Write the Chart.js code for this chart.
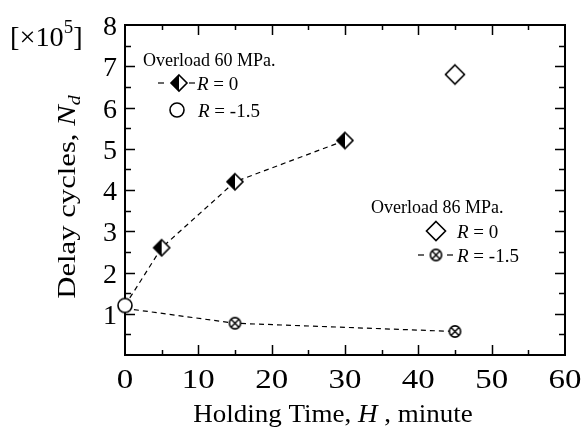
<!DOCTYPE html>
<html>
<head>
<meta charset="utf-8">
<script src="https://cdn.jsdelivr.net/npm/chart.js@4"></script>
<style>body{margin:0;background:#fff}</style>
</head>
<body>
<canvas id="chart" width="582" height="434"></canvas>
<script>
const serif = '"Liberation Serif", "Times New Roman", serif';

// holding time (minute) / delay cycles (x10^5)
const hold60R0 = [0, 5, 15, 30];
const delay60R0 = [1.2, 2.6, 4.2, 5.2];
const hold60Rm = [0];
const delay60Rm = [1.2];
const hold86R0 = [45];
const delay86R0 = [6.8];
const hold86Rm = [0, 15, 45];
const delay86Rm = [1.13, 0.77, 0.57];

function pts(xs, ys) {
    return xs.map((x, i) => ({ x: x, y: ys[i] }));
}

// marker images
function makeMarker(size, draw) {
    const c = document.createElement('canvas');
    c.width = size; c.height = size;
    const g = c.getContext('2d');
    draw(g, size / 2);
    return c;
}
function diamondPath(g, m, r) {
    g.beginPath();
    g.moveTo(m, m - r); g.lineTo(m + r, m); g.lineTo(m, m + r); g.lineTo(m - r, m);
    g.closePath();
}
const halfDiamond = makeMarker(20, (g, m) => {
    diamondPath(g, m, 8);
    g.fillStyle = '#fff'; g.fill();
    g.save(); g.clip();
    g.fillStyle = '#000'; g.fillRect(0, 0, m, 20);
    g.restore();
    diamondPath(g, m, 8);
    g.lineWidth = 1.6; g.strokeStyle = '#000'; g.stroke();
});
const openDiamond = makeMarker(24, (g, m) => {
    diamondPath(g, m, 9.5);
    g.fillStyle = '#fff'; g.fill();
    g.lineWidth = 1.6; g.strokeStyle = '#000'; g.stroke();
});
const openCircle = makeMarker(18, (g, m) => {
    g.beginPath(); g.arc(m, m, 7, 0, Math.PI * 2);
    g.fillStyle = '#fff'; g.fill();
    g.lineWidth = 1.6; g.strokeStyle = '#000'; g.stroke();
});
const crossCircle = makeMarker(15, (g, m) => {
    const r = 5.6;
    g.beginPath(); g.arc(m, m, r, 0, Math.PI * 2);
    g.fillStyle = '#fff'; g.fill();
    g.lineWidth = 1.6; g.strokeStyle = '#000'; g.stroke();
    const d = r * 0.707;
    g.lineWidth = 1.4;
    g.beginPath();
    g.moveTo(m - d, m - d); g.lineTo(m + d, m + d);
    g.moveTo(m + d, m - d); g.lineTo(m - d, m + d);
    g.stroke();
});

// text with mixed italic / sub / sup pieces, sx stretches along the text
function drawParts(ctx, parts, x, y, align, sx) {
    sx = sx || 1;
    let w = 0;
    parts.forEach(p => {
        ctx.font = (p.italic ? 'italic ' : '') + p.size + 'px ' + serif;
        p.w = ctx.measureText(p.t).width;
        w += p.w;
    });
    let start = align === 'center' ? -w / 2 : (align === 'right' ? -w : 0);
    ctx.save();
    ctx.translate(x, y);
    ctx.scale(sx, 1);
    ctx.textAlign = 'left';
    ctx.textBaseline = 'alphabetic';
    let cx = start;
    parts.forEach(p => {
        ctx.font = (p.italic ? 'italic ' : '') + p.size + 'px ' + serif;
        ctx.fillText(p.t, cx, p.dy || 0);
        cx += p.w;
    });
    ctx.restore();
}

const framePlugin = {
    id: 'frame',
    beforeDatasetsDraw(chart) {
        const ctx = chart.ctx;
        const a = chart.chartArea;
        const xs = chart.scales.x, ys = chart.scales.y;
        ctx.save();
        ctx.strokeStyle = '#000';
        ctx.lineWidth = 1.5;
        for (let v = 5; v < 60; v += 5) {
            const px = Math.round(xs.getPixelForValue(v)) + 0.5;
            const len = v % 10 === 0 ? 10 : 5;
            ctx.beginPath();
            ctx.moveTo(px, a.bottom); ctx.lineTo(px, a.bottom - len);
            ctx.moveTo(px, a.top); ctx.lineTo(px, a.top + len);
            ctx.stroke();
        }
        for (let v = 0.5; v < 8; v += 0.5) {
            const py = Math.round(ys.getPixelForValue(v)) + 0.5;
            const len = v % 1 === 0 ? 10 : 6;
            ctx.beginPath();
            ctx.moveTo(a.left, py); ctx.lineTo(a.left + len, py);
            ctx.moveTo(a.right, py); ctx.lineTo(a.right - len, py);
            ctx.stroke();
        }
        ctx.lineWidth = 2;
        ctx.strokeRect(a.left, a.top, a.right - a.left, a.bottom - a.top);

        // tick labels from the scales' own ticks
        ctx.fillStyle = '#000';
        xs.ticks.forEach(t => {
            drawParts(ctx, [{ t: String(t.value), size: 27 }],
                xs.getPixelForValue(t.value), a.bottom + 33, 'center', 1.22);
        });
        ys.ticks.forEach(t => {
            if (t.value === 0) return;
            drawParts(ctx, [{ t: String(t.value), size: 28 }],
                a.left - 8, ys.getPixelForValue(t.value) + 10, 'right', 1);
        });
        ctx.restore();
    }
};

const textPlugin = {
    id: 'texts',
    afterDraw(chart) {
        const ctx = chart.ctx;
        ctx.save();
        ctx.fillStyle = '#000';
        // axis titles
        drawParts(ctx, [
            { t: 'Holding Time, ', size: 25 },
            { t: 'H', size: 25, italic: true },
            { t: ' , minute', size: 25 }
        ], 333, 422, 'center', 1.08);
        ctx.save();
        ctx.translate(75, 197);
        ctx.rotate(-Math.PI / 2);
        drawParts(ctx, [
            { t: 'Delay cycles, ', size: 26 },
            { t: 'N', size: 26, italic: true },
            { t: 'd', size: 17, italic: true, dy: 5 }
        ], 0, 0, 'center', 1.18);
        ctx.restore();
        drawParts(ctx, [
            { t: '[\u00d710', size: 27 },
            { t: '5', size: 18, dy: -13 },
            { t: ']', size: 27 }
        ], 10, 46, 'left', 1.05);

        // legend: overload 60 MPa
        const dash = (x1, x2, y) => {
            ctx.beginPath(); ctx.moveTo(x1, y); ctx.lineTo(x2, y); ctx.stroke();
        };
        ctx.strokeStyle = '#000';
        ctx.lineWidth = 1.2;
        drawParts(ctx, [{ t: 'Overload 60 MPa.', size: 18 }], 143, 66, 'left');
        dash(158, 164, 83); dash(189, 195, 83);
        ctx.drawImage(halfDiamond, 179 - 10, 83 - 10);
        drawParts(ctx, [{ t: 'R', size: 19, italic: true }, { t: ' = 0', size: 19 }], 197, 90, 'left');
        ctx.drawImage(openCircle, 177 - 9, 110 - 9);
        drawParts(ctx, [{ t: 'R', size: 19, italic: true }, { t: ' = -1.5', size: 19 }], 198, 117, 'left');

        // legend: overload 86 MPa
        drawParts(ctx, [{ t: 'Overload 86 MPa.', size: 18 }], 371, 213, 'left');
        ctx.drawImage(openDiamond, 436 - 12, 231 - 12);
        drawParts(ctx, [{ t: 'R', size: 19, italic: true }, { t: ' = 0', size: 19 }], 457, 238, 'left');
        dash(418, 424, 255); dash(447, 453, 255);
        ctx.drawImage(crossCircle, 436 - 7.5, 255 - 7.5);
        drawParts(ctx, [{ t: 'R', size: 19, italic: true }, { t: ' = -1.5', size: 19 }], 457, 262, 'left');
        ctx.restore();
    }
};

const lineStyle = {
    showLine: true,
    borderColor: '#000',
    borderWidth: 1.2,
    borderDash: [5, 4],
    clip: false
};

new Chart(document.getElementById('chart'), {
    type: 'scatter',
    data: {
        datasets: [
            Object.assign({
                label: 'Overload 60 MPa, R = 0',
                data: pts(hold60R0, delay60R0),
                pointStyle: halfDiamond,
                pointRadius: [0, 8, 8, 8],
                order: 3
            }, lineStyle),
            Object.assign({
                label: 'Overload 86 MPa, R = -1.5',
                data: pts(hold86Rm, delay86Rm),
                pointStyle: crossCircle,
                pointRadius: [0, 6, 6],
                order: 2
            }, lineStyle),
            {
                label: 'Overload 86 MPa, R = 0',
                data: pts(hold86R0, delay86R0),
                pointStyle: openDiamond,
                pointRadius: 9,
                clip: false,
                order: 1
            },
            {
                label: 'Overload 60 MPa, R = -1.5',
                data: pts(hold60Rm, delay60Rm),
                pointStyle: openCircle,
                pointRadius: 7,
                clip: false,
                order: 0
            }
        ]
    },
    options: {
        responsive: false,
        animation: false,
        events: [],
        layout: { padding: { top: 25, right: 17, left: 0, bottom: 0 } },
        plugins: {
            legend: { display: false },
            tooltip: { enabled: false }
        },
        scales: {
            x: {
                type: 'linear',
                min: 0, max: 60,
                grid: { display: false, drawTicks: false },
                border: { display: false },
                ticks: { display: false, stepSize: 10 },
                afterFit(scale) { scale.height = 79; }
            },
            y: {
                type: 'linear',
                min: 0, max: 8,
                grid: { display: false, drawTicks: false },
                border: { display: false },
                ticks: { display: false, stepSize: 1 },
                afterFit(scale) { scale.width = 125; }
            }
        }
    },
    plugins: [framePlugin, textPlugin]
});
</script>
</body>
</html>
